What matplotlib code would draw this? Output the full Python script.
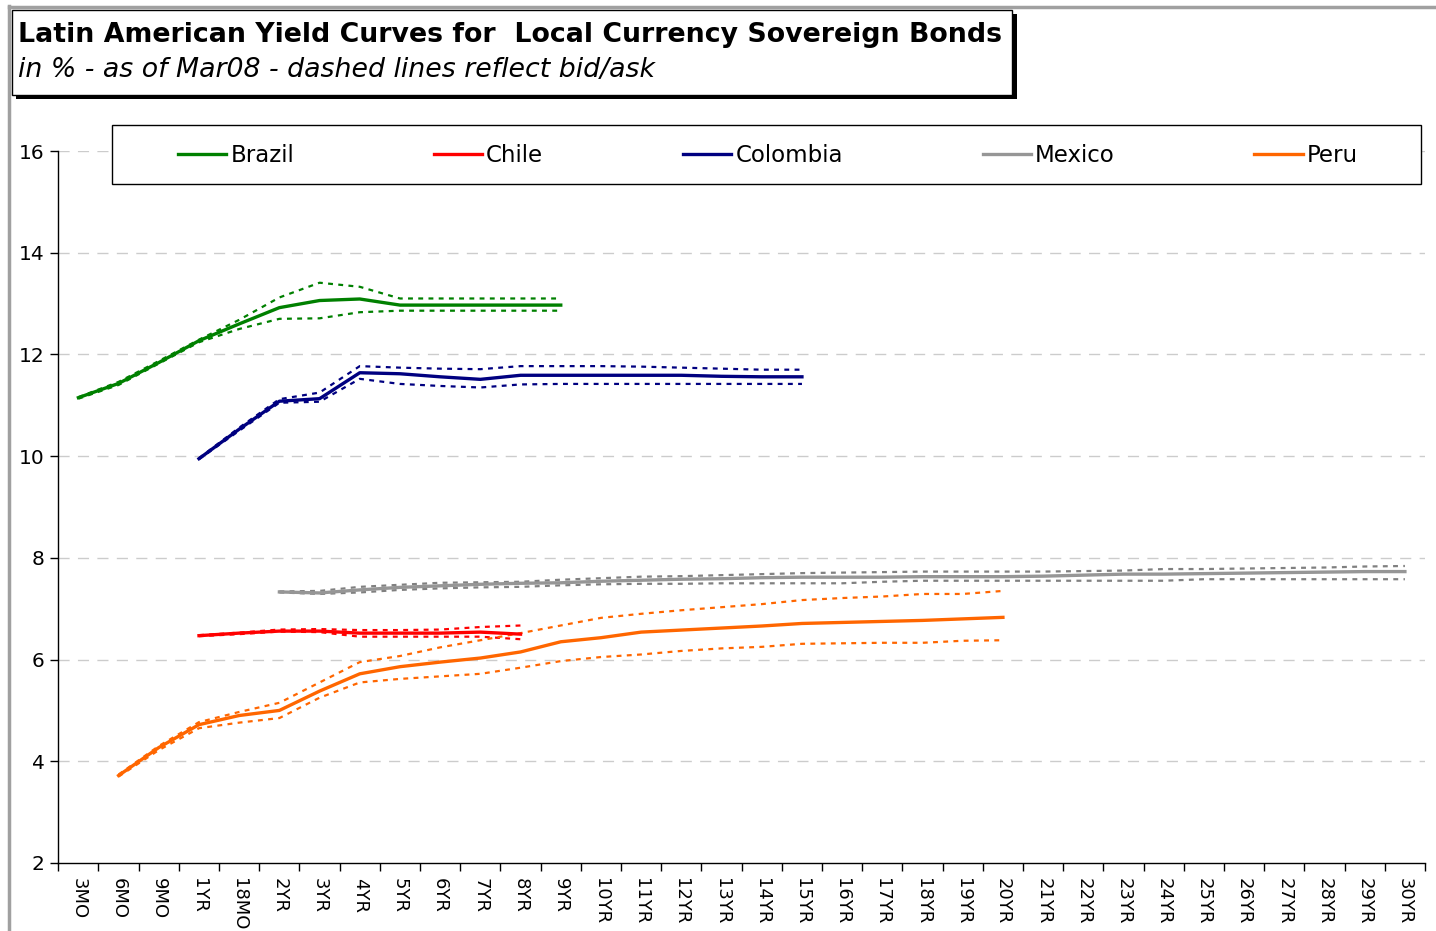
import matplotlib.pyplot as plt
import numpy as np
from matplotlib.lines import Line2D
from matplotlib.patches import Rectangle

# tenors on the x axis
tenors = ['3MO', '6MO', '9MO', '1YR', '18MO', '2YR', '3YR', '4YR', '5YR', '6YR',
          '7YR', '8YR', '9YR', '10YR', '11YR', '12YR', '13YR', '14YR', '15YR', '16YR',
          '17YR', '18YR', '19YR', '20YR', '21YR', '22YR', '23YR', '24YR', '25YR', '26YR',
          '27YR', '28YR', '29YR', '30YR']

yticks = [2, 4, 6, 8, 10, 12, 14, 16]

# Brazil: 3MO .. 9YR
brazil_start = '3MO'
brazil_mid = [11.15, 11.43, 11.84, 12.27, 12.60, 12.92, 13.06, 13.09, 12.97, 12.97, 12.97, 12.97, 12.97]
brazil_ask = [11.16, 11.46, 11.87, 12.29, 12.68, 13.12, 13.41, 13.33, 13.10, 13.10, 13.10, 13.10, 13.10]
brazil_bid = [11.13, 11.40, 11.82, 12.24, 12.50, 12.70, 12.71, 12.83, 12.86, 12.86, 12.86, 12.86, 12.86]

# Chile: 1YR .. 8YR
chile_start = '1YR'
chile_mid = [6.47, 6.52, 6.56, 6.56, 6.52, 6.52, 6.52, 6.54, 6.50]
chile_ask = [6.48, 6.53, 6.59, 6.60, 6.58, 6.58, 6.59, 6.64, 6.67]
chile_bid = [6.46, 6.50, 6.55, 6.54, 6.45, 6.45, 6.45, 6.45, 6.40]

# Colombia: 1YR .. 15YR
colombia_start = '1YR'
colombia_mid = [9.95, 10.53, 11.08, 11.13, 11.64, 11.62, 11.56, 11.51, 11.59, 11.59,
                11.59, 11.59, 11.59, 11.57, 11.56, 11.56]
colombia_ask = [9.96, 10.56, 11.12, 11.25, 11.77, 11.74, 11.72, 11.71, 11.77, 11.77,
                11.77, 11.76, 11.74, 11.72, 11.70, 11.70]
colombia_bid = [9.94, 10.50, 11.05, 11.07, 11.52, 11.42, 11.38, 11.35, 11.41, 11.42,
                11.42, 11.42, 11.42, 11.42, 11.42, 11.42]

# Mexico: 2YR .. 30YR
mexico_start = '2YR'
mexico_mid = [7.33, 7.31, 7.37, 7.42, 7.45, 7.48, 7.50, 7.51, 7.54, 7.56,
              7.58, 7.59, 7.61, 7.62, 7.62, 7.62, 7.63, 7.63, 7.63, 7.64,
              7.66, 7.68, 7.68, 7.69, 7.70, 7.71, 7.72, 7.73, 7.73]
mexico_ask = [7.34, 7.35, 7.43, 7.47, 7.51, 7.52, 7.53, 7.57, 7.60, 7.63,
              7.64, 7.66, 7.68, 7.70, 7.71, 7.72, 7.73, 7.73, 7.73, 7.73,
              7.74, 7.75, 7.78, 7.78, 7.79, 7.80, 7.81, 7.83, 7.84]
mexico_bid = [7.32, 7.29, 7.32, 7.37, 7.40, 7.42, 7.43, 7.46, 7.48, 7.49,
              7.49, 7.50, 7.50, 7.50, 7.50, 7.53, 7.55, 7.55, 7.55, 7.55,
              7.55, 7.55, 7.55, 7.58, 7.58, 7.58, 7.58, 7.58, 7.58]

# Peru: 6MO .. 20YR
peru_start = '6MO'
peru_mid = [3.72, 4.27, 4.72, 4.90, 5.00, 5.38, 5.72, 5.86, 5.95, 6.03,
            6.15, 6.35, 6.43, 6.54, 6.58, 6.62, 6.66, 6.71, 6.73, 6.75,
            6.77, 6.80, 6.83]
peru_ask = [3.74, 4.30, 4.77, 4.97, 5.15, 5.55, 5.95, 6.07, 6.24, 6.38,
            6.52, 6.67, 6.82, 6.90, 6.97, 7.03, 7.09, 7.17, 7.21, 7.24,
            7.29, 7.29, 7.35]
peru_bid = [3.70, 4.22, 4.65, 4.76, 4.85, 5.25, 5.55, 5.62, 5.67, 5.72,
            5.84, 5.97, 6.05, 6.10, 6.17, 6.22, 6.25, 6.31, 6.32, 6.33,
            6.33, 6.37, 6.38]

countries = ['Brazil', 'Chile', 'Colombia', 'Mexico', 'Peru']

W, H = 1436, 931
fig = plt.figure(figsize=(W / 100, H / 100), dpi=100)
fig.patch.set_facecolor('white')


def fx(px):
    return px / W


def fy(py):
    return 1 - py / H


ax = fig.add_axes([fx(58.3), fy(863), fx(1425) - fx(58.3), fy(151) - fy(863)])

series = [
    (brazil_start, brazil_mid, brazil_ask, brazil_bid, '#008000', '#008000'),
    (chile_start, chile_mid, chile_ask, chile_bid, '#ff0000', '#ff0000'),
    (colombia_start, colombia_mid, colombia_ask, colombia_bid, '#000080', '#000080'),
    (mexico_start, mexico_mid, mexico_ask, mexico_bid, '#969696', '#808080'),
    (peru_start, peru_mid, peru_ask, peru_bid, '#ff6600', '#ff6600'),
]

handles = []
for name, (start, mid, ask, bid, col, dcol) in zip(countries, series):
    i0 = tenors.index(start)
    x = np.arange(i0, i0 + len(mid))
    for band in (ask, bid):
        ax.plot(x, band, color=dcol, lw=1.6, linestyle=(0, (2.2, 2.4)),
                zorder=2, solid_capstyle='butt')
    h, = ax.plot(x, mid, color=col, lw=2.4, zorder=3, label=name)
    handles.append(h)

ax.set_xlim(-0.5, len(tenors) - 0.5)
ax.set_ylim(2, 16)
ax.set_yticks(yticks)
ax.set_yticklabels([str(v) for v in yticks], fontsize=14.5)
ax.set_xticks(np.arange(len(tenors)))
ax.set_xticklabels(tenors, rotation=270, fontsize=13, va='top', ha='center')
ax.set_xticks(np.arange(len(tenors) + 1) - 0.5, minor=True)
ax.tick_params(axis='x', which='major', length=0, pad=11)
ax.tick_params(axis='x', which='minor', length=6, direction='out', width=1)
ax.tick_params(axis='y', length=6, width=1, pad=4)

for v in yticks[1:]:
    ax.axhline(v, color='#cccccc', lw=1, linestyle=(0, (8, 6)), zorder=1)

for s in ['top', 'right']:
    ax.spines[s].set_visible(False)
for s in ['left', 'bottom']:
    ax.spines[s].set_color('black')
    ax.spines[s].set_linewidth(1)

# legend box, then the legend entries centred in it
fig.add_artist(Rectangle((fx(112), fy(184)), fx(1421) - fx(112), fy(125) - fy(184),
                         facecolor='white', edgecolor='black', lw=1, zorder=4))
leg = fig.legend(handles=handles, loc='center', ncol=5,
                 bbox_to_anchor=(fx(768), fy(156)),
                 prop={'size': 16.5}, frameon=False,
                 handlelength=2.1, handletextpad=0.18, columnspacing=6.1,
                 borderpad=0, borderaxespad=0)
leg.set_zorder(5)
for lh in leg.get_lines():
    lh.set_linewidth(2.4)

# outer frame of the chart area
fig.add_artist(Line2D([fx(9), fx(9)], [fy(6), 0], color='#a0a0a0', lw=2.5))
fig.add_artist(Line2D([fx(9), 1], [fy(7), fy(7)], color='#a0a0a0', lw=2.5))

# title box with shadow
fig.add_artist(Rectangle((fx(16), fy(99)), fx(1017) - fx(16), fy(14) - fy(99),
                         facecolor='black', edgecolor='none', zorder=5))
fig.add_artist(Rectangle((fx(12), fy(95)), fx(1012) - fx(12), fy(10) - fy(95),
                         facecolor='white', edgecolor='black', lw=1, zorder=6))
fig.text(fx(18), fy(35), 'Latin American Yield Curves for  Local Currency Sovereign Bonds',
         fontsize=19.3, fontweight='bold', va='center', ha='left', zorder=7)
fig.text(fx(18), fy(70), 'in % - as of Mar08 - dashed lines reflect bid/ask',
         fontsize=19.3, style='italic', va='center', ha='left', zorder=7)

fig.savefig('out.png', dpi=100)
